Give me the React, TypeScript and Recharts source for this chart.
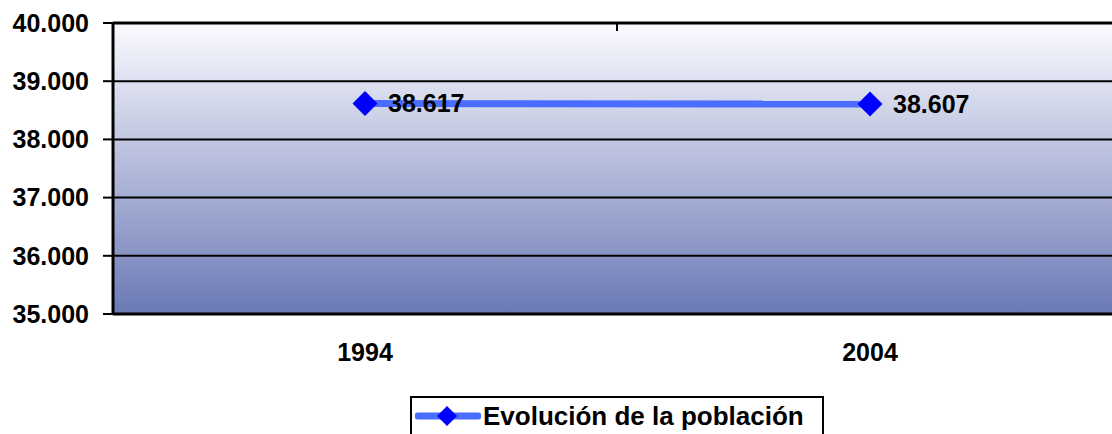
import React from 'react';
import { LineChart, Line, XAxis, YAxis, CartesianGrid, LabelList, Legend } from 'recharts';

const years = ['1994', '2004'];
const population = [38617, 38607];
const yTicks = [35000, 36000, 37000, 38000, 39000, 40000];
const seriesName = 'Evolución de la población';

const data = years.map((y, i) => ({ year: y, pop: population[i] }));

const FONT = "Arial, 'Liberation Sans', sans-serif";
const fmt = (v: number) => (v / 1000).toFixed(3);

const Diamond = (props: any) => {
  const { cx, cy } = props;
  if (cx == null || cy == null) return null;
  const r = 12.5;
  return (
    <polygon
      points={`${cx},${cy - r} ${cx + r},${cy} ${cx},${cy + r} ${cx - r},${cy}`}
      fill="#0000ff"
      stroke="none"
    />
  );
};

const LegendBox = () => (
  <div
    style={{
      boxSizing: 'border-box',
      height: 45,
      width: 414,
      border: '2px solid #000',
      background: '#fff',
      display: 'flex',
      alignItems: 'flex-start',
      paddingTop: 3,
      paddingLeft: 3,
      fontFamily: FONT,
      fontWeight: 'bold',
      fontSize: 26,
      color: '#000',
      lineHeight: '30px',
    }}
  >
    <svg width={66} height={30} style={{ marginRight: 2 }}>
      <line x1={3} y1={15} x2={63} y2={15} stroke="#4a6cff" strokeWidth={7} strokeLinecap="round" />
      <polygon points="32,5 42,15 32,25 22,15" fill="#0000ff" />
    </svg>
    <span>{seriesName}</span>
  </div>
);

export default function App() {
  return (
    <div style={{ position: 'absolute', left: 0, top: 0, width: 1112, height: 434, overflow: 'hidden', background: '#fff' }}>
      <LineChart width={1122} height={434} data={data} margin={{ top: 23, right: 0, bottom: 0, left: 0 }}>
        <defs>
          <linearGradient id="bg" x1="0" y1="0" x2="0" y2="1">
            <stop offset="0%" stopColor="#fbfbff" />
            <stop offset="100%" stopColor="#6b79b5" />
          </linearGradient>
        </defs>
        <CartesianGrid vertical={false} stroke="#000" strokeWidth={2} fill="url(#bg)" fillOpacity={1} />
        <XAxis
          xAxisId="main"
          dataKey="year"
          type="category"
          padding={{ left: 252, right: 252 }}
          height={75}
          axisLine={{ stroke: '#000', strokeWidth: 3 }}
          tickLine={false}
          tickSize={0}
          tickMargin={29}
          tick={{ fill: '#000', fontSize: 25, fontWeight: 'bold', fontFamily: FONT }}
        />
        <XAxis
          xAxisId="top"
          dataKey="year"
          type="category"
          padding={{ left: 504, right: 505 }}
          orientation="top"
          mirror
          height={10}
          axisLine={{ stroke: '#000', strokeWidth: 3 }}
          tickLine={{ stroke: '#000', strokeWidth: 2 }}
          tickSize={8}
          tickFormatter={() => ''}
          tick={{ fontSize: 1, fill: 'none' }}
        />
        <YAxis
          domain={[35000, 40000]}
          ticks={yTicks}
          width={113}
          interval={0}
          axisLine={{ stroke: '#000', strokeWidth: 3 }}
          tickLine={{ stroke: '#000', strokeWidth: 2 }}
          tickSize={10}
          tickMargin={14}
          tickFormatter={fmt}
          tick={{ fill: '#000', fontSize: 25, fontWeight: 'bold', fontFamily: FONT }}
        />
        <Legend
          verticalAlign="bottom"
          content={() => <LegendBox />}
          wrapperStyle={{ position: 'absolute', left: 410, top: 396, bottom: 'auto', width: 414 }}
        />
        <Line
          xAxisId="main"
          dataKey="pop"
          name={seriesName}
          stroke="#4a6cff"
          strokeWidth={7}
          dot={<Diamond />}
          activeDot={false}
          isAnimationActive={false}
        >
          <LabelList
            dataKey="pop"
            position="right"
            offset={23}
            formatter={(v: any) => fmt(Number(v))}
            style={{ fill: '#000', fontSize: 25, fontWeight: 'bold', fontFamily: FONT }}
          />
        </Line>
      </LineChart>
    </div>
  );
}
